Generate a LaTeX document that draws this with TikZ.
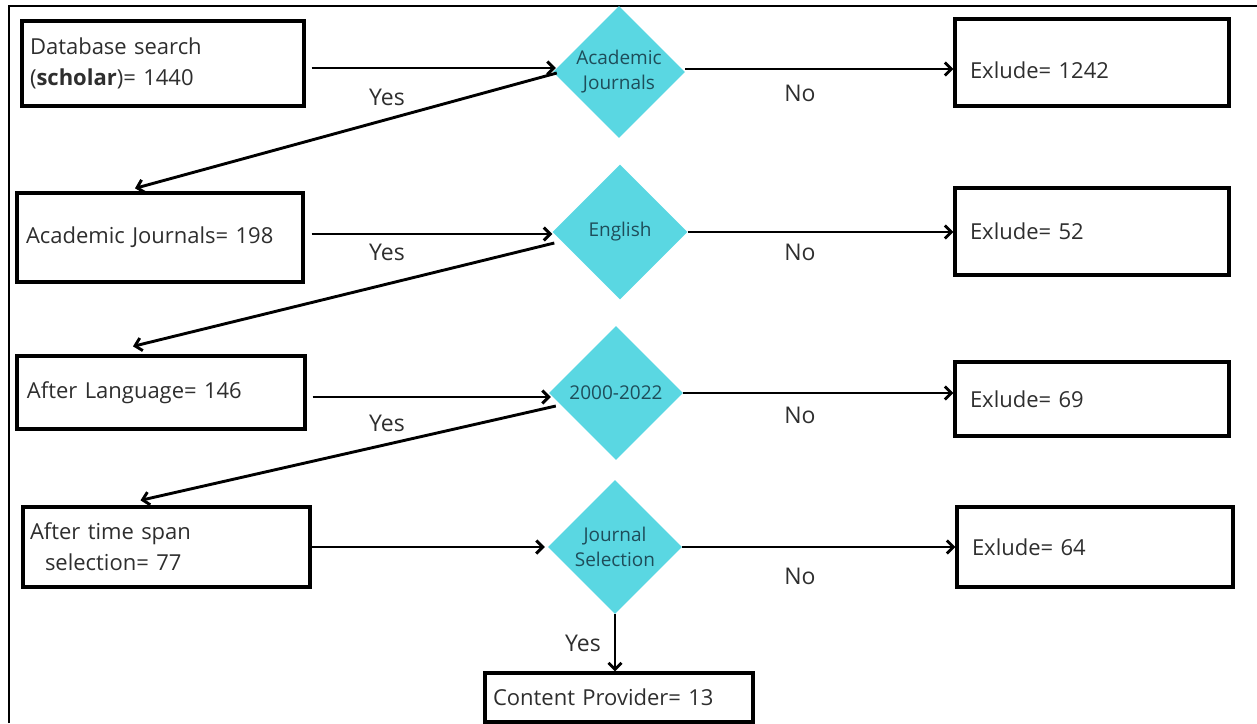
\documentclass[tikz,border=0pt]{standalone}
\usepackage{fontspec}
\setmainfont{Open Sans}
\usetikzlibrary{shapes.geometric,arrows.meta}
\definecolor{boxtext}{HTML}{2E2E2E}
\definecolor{labtext}{HTML}{2E2E2E}
\definecolor{decfill}{HTML}{5AD7E2}
\definecolor{dectext}{HTML}{1E4D5A}
\begin{document}
\begin{tikzpicture}[x=1pt,y=-1pt,
  box/.style={draw=black, line width=3.3pt, rectangle, align=left,
    inner ysep=0pt, text=boxtext, font=\fontsize{22}{31}\selectfont},
  exbox/.style={box, minimum width=274pt, text width=244pt, inner xsep=15pt},
  decision/.style={diamond, aspect=1, fill=decfill, draw=none, inner sep=0pt,
    align=center, text=dectext, font=\fontsize{19}{25}\selectfont},
  arr/.style={-{Straight Barb[length=6.5pt,width=13pt]}, line width=2.9pt},
  lab/.style={text=labtext, inner sep=0pt, font=\fontsize{23}{28}\selectfont}]
\useasboundingbox (0,0) rectangle (1257,723);

% outer frame (top and left sides)
\draw[line width=2.6pt] (9,723) -- (9,6) -- (1257,6);

% left column of counts
\node[box, minimum width=282pt, minimum height=85pt, text width=266pt, inner xsep=8pt]
  (b1) at (163,63.5) {Database search\\(\textbf{scholar})= 1440};
\node[box, minimum width=286pt, minimum height=89pt, text width=268pt, inner xsep=9pt]
  (b2) at (160,237.5) {Academic Journals= 198};
\node[box, minimum width=288pt, minimum height=73pt, text width=268pt, inner xsep=10pt]
  (b3) at (161,392.5) {After Language= 146};
\node[box, minimum width=287pt, minimum height=80pt, text width=273pt, inner xsep=7pt]
  (b4) at (166.5,547) {After time span\\\hspace*{15pt}selection= 77};
\node[box, minimum width=268pt, minimum height=49pt, text width=252pt, inner xsep=8pt]
  (b5) at (619,697.5) {Content Provider= 13};

% decisions
\node[decision, minimum width=132pt, minimum height=132pt] (d1) at (619,72) {Academic\\Journals};
\node[decision, minimum width=135pt, minimum height=135pt] (d2) at (620,232) {\raisebox{5pt}{English}};
\node[decision, minimum width=134pt, minimum height=134pt] (d3) at (616,393) {2000-2022};
\node[decision, minimum width=134pt, minimum height=134pt] (d4) at (615,547) {Journal\\Selection};

% exclusions
\node[exbox, minimum height=87pt, text height=31pt, text depth=0pt] (e1) at (1092,62.5) {Exlude= 1242};
\node[exbox, minimum height=87pt] (e2) at (1092,231.5) {Exlude= 52};
\node[exbox, minimum height=74pt] (e3) at (1092,399) {Exlude= 69};
\node[exbox, minimum width=276pt, text width=246pt, minimum height=80pt] (e4) at (1095,547) {Exlude= 64};

% row 1
\draw[arr] ([shift={(6,4.5)}]b1.east) -- ([shift={(3,-4)}]d1.west);
\draw[arr] ([shift={(0,-3)}]d1.east) -- ([shift={(0,6.5)}]e1.west);
\draw[arr] ([shift={(4,1)}]d1.west) -- ([shift={(-25,-3)}]b2.north);
% row 2
\draw[arr] ([shift={(7,-3.5)}]b2.east) -- ([shift={(0,2)}]d2.west);
\draw[arr] (d2.east) -- (d2.east -| e2.west);
\draw[arr] ([shift={(2,11)}]d2.west) -- ([shift={(-28,-8)}]b3.north);
% row 3
\draw[arr] ([shift={(6,4.5)}]b3.east) -- ([shift={(2,4)}]d3.west);
\draw[arr] (d3.east) -- (d3.east -| e3.west);
\draw[arr] ([shift={(7,13)}]d3.west) -- ([shift={(-26,-5)}]b4.north);
% row 4
\draw[arr] (b4.east) -- ([shift={(-3,0)}]d4.west);
\draw[arr] (d4.east) -- (d4.east -| e4.west);
\draw[arr] (d4.south) -- (d4.south |- b5.north);

% branch labels
\node[lab] (y1) at (387,97) {Yes};
\node[lab] (y2) at (387,252) {Yes};
\node[lab] (y3) at (387,423) {Yes};
\node[lab] (y4) at (583,643) {Yes};
\node[lab] (n1) at (800,93) {No};
\node[lab] (n2) at (800,252) {No};
\node[lab] (n3) at (800,415) {No};
\node[lab] (n4) at (800,576) {No};
\end{tikzpicture}
\end{document}
